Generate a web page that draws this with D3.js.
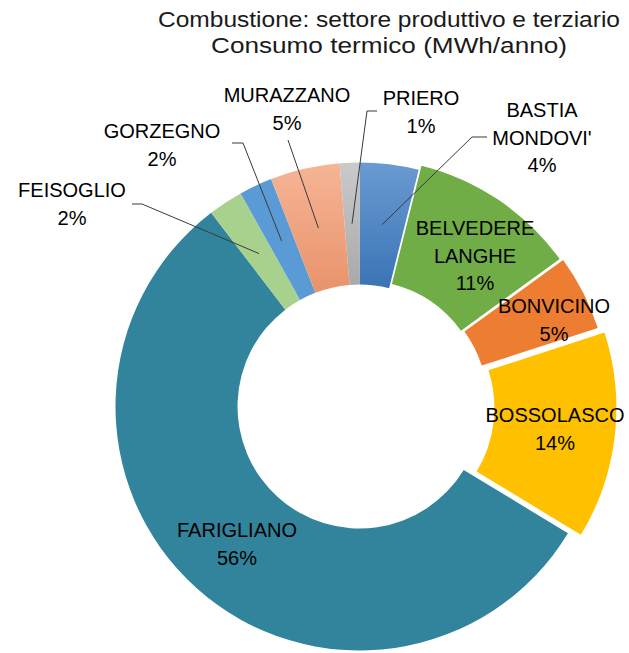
<!DOCTYPE html>
<html lang="en">

<head>
    <meta charset="UTF-8">
    <script src="https://d3js.org/d3.v7.min.js"></script>
    <style>
        body {
            margin: 0;
            background: #ffffff;
        }

        text {
            font-family: "Liberation Sans", Arial, sans-serif;
        }

        .title {
            font-size: 22px;
            fill: #1a1a1a;
            text-anchor: middle;
        }

        .label {
            font-size: 20px;
            fill: #000000;
            text-anchor: middle;
        }
    </style>
</head>

<body>
    <svg id="chart" width="629" height="653"></svg>

    <script>
        // data (share of total, %)
        const comuni = ["BASTIA|MONDOVI'", "BELVEDERE|LANGHE", "BONVICINO", "BOSSOLASCO", "FARIGLIANO",
            "FEISOGLIO", "GORZEGNO", "MURAZZANO", "PRIERO"];
        const quote = [3.9, 11.1, 5.0, 13.7, 55.9, 2.3, 2.2, 4.6, 1.3];
        const titolo = ["Combustione: settore produttivo e terziario", "Consumo termico (MWh/anno)"];

        const colori = ["url(#g-bastia)", "#70ad47", "#ed7d31", "#ffc000", "#31849b",
            "#a9d18e", "#5b9bd5", "url(#g-muraz)", "url(#g-priero)"];
        const esplosione = [0, 5, 7, 13, 0, 0, 0, 0, 0];

        // label anchor (centre x, first baseline y) and leader elbows
        const labelPos = [[542, 117], [475, 235], [554, 313], [555, 422], [237, 537],
            [72, 197], [162, 138], [287, 102], [421, 105]];
        const leader = [[487, 137, 472, 137], null, null, null, null,
            [132, 204, 142, 204], [232, 143, 243, 143], [288, 140, 288, 140], [377, 111, 367, 111]];
        const titoloLen = [462, 356];

        const svg = d3.select("#chart");
        const cx = 359.5, cy = 406.5;
        const R = 244, r = 122;

        const defs = svg.append("defs");
        function grad(id, c1, c2) {
            const g = defs.append("linearGradient").attr("id", id)
                .attr("x1", 0).attr("y1", 0).attr("x2", 0).attr("y2", 1);
            g.append("stop").attr("offset", "0%").attr("stop-color", c1);
            g.append("stop").attr("offset", "100%").attr("stop-color", c2);
        }
        grad("g-bastia", "#6a9bd1", "#3a74b5");
        grad("g-muraz", "#f6b596", "#e8936b");
        grad("g-priero", "#cacaca", "#a9a9a9");

        const data = comuni.map((c, i) => ({ nome: c, v: quote[i], i: i }));

        const pie = d3.pie().sort(null).value(d => d.v);
        const arc = d3.arc().innerRadius(r).outerRadius(R);
        const arcs = pie(data);

        const g = svg.append("g").attr("transform", `translate(${cx},${cy})`);

        function shift(d) {
            const a = (d.startAngle + d.endAngle) / 2;
            const e = esplosione[d.data.i];
            return [Math.sin(a) * e, -Math.cos(a) * e];
        }

        g.selectAll("path.slice")
            .data(arcs)
            .join("path")
            .attr("class", "slice")
            .attr("d", arc)
            .attr("fill", d => colori[d.data.i])
            .attr("transform", d => `translate(${shift(d)})`);

        // leader lines
        const line = d3.line();
        svg.selectAll("path.leader")
            .data(arcs.filter(d => leader[d.data.i]))
            .join("path")
            .attr("class", "leader")
            .attr("fill", "none")
            .attr("stroke", "#3a3a3a")
            .attr("stroke-width", 1)
            .attr("d", d => {
                const l = leader[d.data.i];
                const c = arc.centroid(d);
                const s = shift(d);
                return line([[l[0], l[1]], [l[2], l[3]], [cx + c[0] + s[0], cy + c[1] + s[1]]]);
            });

        // labels
        const lab = svg.selectAll("text.label")
            .data(arcs)
            .join("text")
            .attr("class", "label")
            .attr("x", d => labelPos[d.data.i][0])
            .attr("y", d => labelPos[d.data.i][1]);

        lab.each(function (d) {
            const righe = d.data.nome.split("|").concat([Math.round(d.data.v) + "%"]);
            d3.select(this).selectAll("tspan")
                .data(righe)
                .join("tspan")
                .attr("x", labelPos[d.data.i][0])
                .attr("dy", (t, k) => k === 0 ? 0 : 27.5)
                .text(t => t);
        });

        svg.selectAll("text.title")
            .data(titolo)
            .join("text")
            .attr("class", "title")
            .attr("x", 389)
            .attr("y", (t, k) => 27 + k * 26)
            .attr("textLength", (t, k) => titoloLen[k])
            .attr("lengthAdjust", "spacingAndGlyphs")
            .text(t => t);
    </script>
</body>

</html>
